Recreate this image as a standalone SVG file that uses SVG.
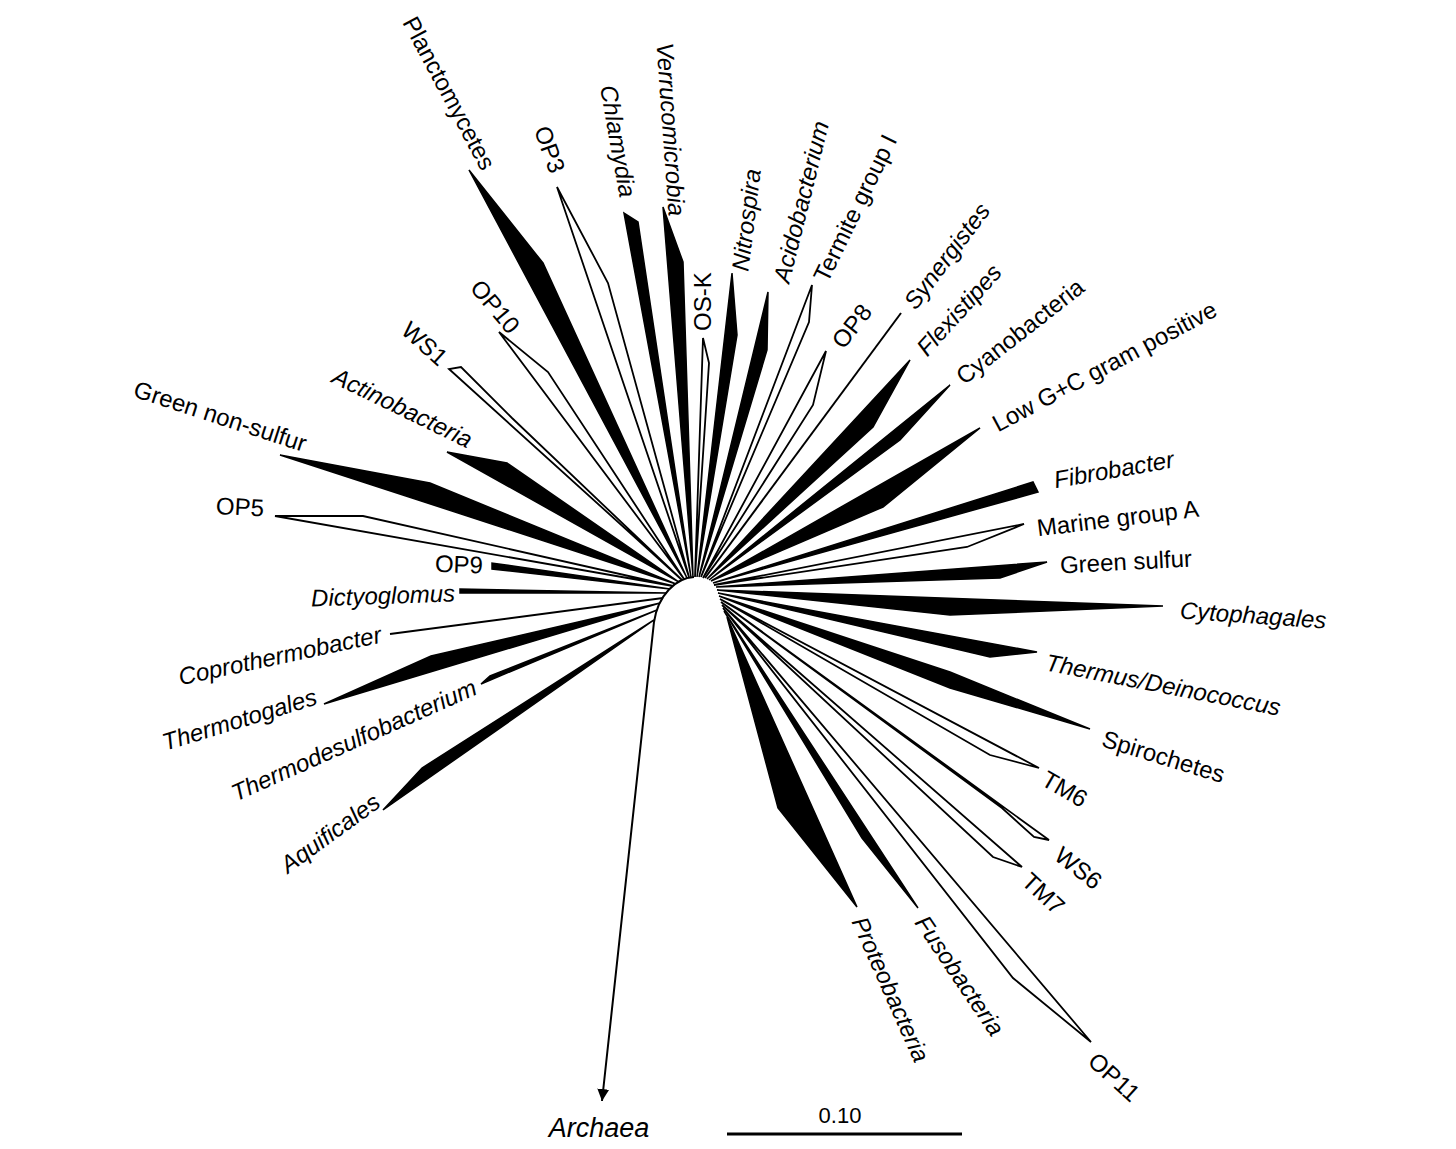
<svg xmlns="http://www.w3.org/2000/svg" width="1456" height="1149" viewBox="0 0 1456 1149">
<style>
.f{fill:#000;stroke:#000;stroke-width:1.5;stroke-linejoin:miter}
.o{fill:#fff;stroke:#000;stroke-width:1.8;stroke-linejoin:miter}
.l{fill:none;stroke:#000;stroke-width:2}
text{font-family:"Liberation Sans",Arial,sans-serif;font-size:24px;fill:#000}
.i{font-style:italic}
</style>
<defs>
<marker id="arr" viewBox="0 0 10 10" refX="10" refY="5" markerWidth="6" markerHeight="6" orient="auto" markerUnits="strokeWidth">
<path d="M0,0 L10,5 L0,10 z" fill="#000"/>
</marker>
</defs>
<rect width="1456" height="1149" fill="#fff"/>

<g id="connectors">
<path class="l" d="M694,577 C676,578 658,595 654,622 L602,1101" marker-end="url(#arr)"/>
</g>

<g id="aquificales"><polygon class="f" points="654,620 422,768 383,810"/><text class="i" transform="translate(377,799) rotate(-36)" text-anchor="end" dy="0.35em">Aquificales</text></g>
<g id="thermodesulfobacterium"><polygon class="f" points="657,610 490,676 481,684"/><text class="i" transform="translate(475,686) rotate(-24)" text-anchor="end" dy="0.35em">Thermodesulfobacterium</text></g>
<g id="thermotogales"><polygon class="f" points="660,603 431,656 324,704"/><text class="i" transform="translate(316,696) rotate(-17)" text-anchor="end" dy="0.35em">Thermotogales</text></g>
<g id="coprothermobacter"><line class="l" x1="663" y1="598" x2="390" y2="634"/><text class="i" transform="translate(381,634) rotate(-12)" text-anchor="end" dy="0.35em">Coprothermobacter</text></g>
<g id="dictyoglomus"><polygon class="f" points="667,593 460,589 460,593"/><text class="i" transform="translate(455,593) rotate(-2)" text-anchor="end" dy="0.35em">Dictyoglomus</text></g>
<g id="op9"><polygon class="f" points="670,589 492,563 492,569"/><text transform="translate(483,565) rotate(2)" text-anchor="end" dy="0.35em">OP9</text></g>
<g id="op5"><polygon class="o" points="673,586 363,516 275,516"/><text transform="translate(264,508) rotate(3)" text-anchor="end" dy="0.35em">OP5</text></g>
<g id="green-non-sulfur"><polygon class="f" points="676,584 430,483 280,455"/><text transform="translate(306,444) rotate(18)" text-anchor="end" dy="0.35em">Green non-sulfur</text></g>
<g id="actinobacteria"><polygon class="f" points="679,582 507,463 447,452"/><text class="i" transform="translate(471,441) rotate(26)" text-anchor="end" dy="0.35em">Actinobacteria</text></g>
<g id="ws1"><polygon class="o" points="682,580 512,418 461,367 449,369"/><text transform="translate(444,361) rotate(42)" text-anchor="end" dy="0.35em">WS1</text></g>
<g id="op10"><polygon class="o" points="684,579 548,372 499,332"/><text transform="translate(515,330) rotate(50)" text-anchor="end" dy="0.35em">OP10</text></g>
<g id="planctomycetes"><polygon class="f" points="687,578 469,170 543,263"/><text transform="translate(489,168) rotate(62)" text-anchor="end" dy="0.35em">Planctomycetes</text></g>
<g id="op3"><polygon class="o" points="689,577 557,187 608,283"/><text transform="translate(558,172) rotate(70)" text-anchor="end" dy="0.35em">OP3</text></g>
<g id="chlamydia"><polygon class="f" points="691,577 624,213 638,222"/><text class="i" transform="translate(628,197) rotate(80)" text-anchor="end" dy="0.35em">Chlamydia</text></g>
<g id="verrucomicrobia"><polygon class="f" points="693,577 663,207 683,262"/><text class="i" transform="translate(677,216) rotate(86)" text-anchor="end" dy="0.35em">Verrucomicrobia</text></g>
<g id="os-k"><polygon class="o" points="695,577 703,338 709,363"/><text transform="translate(703,331) rotate(-90)" text-anchor="start" dy="0.35em">OS-K</text></g>
<g id="nitrospira"><polygon class="f" points="697,577 732,273 737,335"/><text class="i" transform="translate(740,271) rotate(-83)" text-anchor="start" dy="0.35em">Nitrospira</text></g>
<g id="acidobacterium"><polygon class="f" points="699,577 768,292 767,350"/><text class="i" transform="translate(781,282) rotate(-76)" text-anchor="start" dy="0.35em">Acidobacterium</text></g>
<g id="termite-group-i"><polygon class="o" points="701,577 812,285 809,322"/><text transform="translate(820,280) rotate(-64)" text-anchor="start" dy="0.35em">Termite group I</text></g>
<g id="op8"><polygon class="o" points="703,578 826,351 813,405"/><text transform="translate(837,345) rotate(-52)" text-anchor="start" dy="0.35em">OP8</text></g>
<g id="synergistes"><line class="l" x1="705" y1="578" x2="901" y2="313"/><text class="i" transform="translate(909,306) rotate(-53)" text-anchor="start" dy="0.35em">Synergistes</text></g>
<g id="flexistipes"><polygon class="f" points="707,579 910,360 873,427"/><text class="i" transform="translate(921,352) rotate(-48)" text-anchor="start" dy="0.35em">Flexistipes</text></g>
<g id="cyanobacteria"><polygon class="f" points="709,580 950,385 900,440"/><text transform="translate(959,379) rotate(-38)" text-anchor="start" dy="0.35em">Cyanobacteria</text></g>
<g id="low-gc"><polygon class="f" points="711,581 980,428 883,507"/><text transform="translate(994,425) rotate(-28)" text-anchor="start" dy="0.35em">Low G+C gram positive</text></g>
<g id="fibrobacter"><polygon class="f" points="713,583 1033,482 1038,492"/><text class="i" transform="translate(1054,480) rotate(-10)" text-anchor="start" dy="0.35em">Fibrobacter</text></g>
<g id="marine-group-a"><polygon class="o" points="714,585 1024,524 967,547"/><text transform="translate(1037,528) rotate(-7)" text-anchor="start" dy="0.35em">Marine group A</text></g>
<g id="green-sulfur"><polygon class="f" points="716,587 1047,562 1000,578"/><text transform="translate(1060,565) rotate(-3)" text-anchor="start" dy="0.35em">Green sulfur</text></g>
<g id="cytophagales"><polygon class="f" points="717,590 1163,606 950,615"/><text class="i" transform="translate(1180,610) rotate(4)" text-anchor="start" dy="0.35em">Cytophagales</text></g>
<g id="thermus"><polygon class="f" points="718,593 1037,652 990,657"/><text class="i" transform="translate(1046,662) rotate(11)" text-anchor="start" dy="0.35em">Thermus/Deinococcus</text></g>
<g id="spirochetes"><polygon class="f" points="719,596 950,672 1090,729 950,688"/><text transform="translate(1103,738) rotate(17)" text-anchor="start" dy="0.35em">Spirochetes</text></g>
<g id="tm6"><polygon class="o" points="720,599 1039,768 990,755"/><text transform="translate(1044,777) rotate(30)" text-anchor="start" dy="0.35em">TM6</text></g>
<g id="ws6"><polygon class="o" points="721,602 1049,840 1034,837 1002,808"/><text transform="translate(1058,852) rotate(38)" text-anchor="start" dy="0.35em">WS6</text></g>
<g id="tm7"><polygon class="o" points="722,605 1022,867 993,857"/><text transform="translate(1026,877) rotate(43)" text-anchor="start" dy="0.35em">TM7</text></g>
<g id="op11"><polygon class="o" points="723,608 1091,1042 1013,978"/><text transform="translate(1092,1057) rotate(42)" text-anchor="start" dy="0.35em">OP11</text></g>
<g id="fusobacteria"><polygon class="f" points="724,611 918,908 862,838"/><text class="i" transform="translate(921,918) rotate(56)" text-anchor="start" dy="0.35em">Fusobacteria</text></g>
<g id="proteobacteria"><polygon class="f" points="727,617 857,907 778,808"/><text class="i" transform="translate(859,918) rotate(66)" text-anchor="start" dy="0.35em">Proteobacteria</text></g>

<g id="archaea"><text class="i" x="599" y="1137" text-anchor="middle" style="font-size:27px">Archaea</text></g>

<g id="scale-bar"><line x1="727" y1="1134" x2="962" y2="1134" stroke="#000" stroke-width="3"/><text x="840" y="1123" text-anchor="middle" style="font-size:22px">0.10</text></g>
</svg>
